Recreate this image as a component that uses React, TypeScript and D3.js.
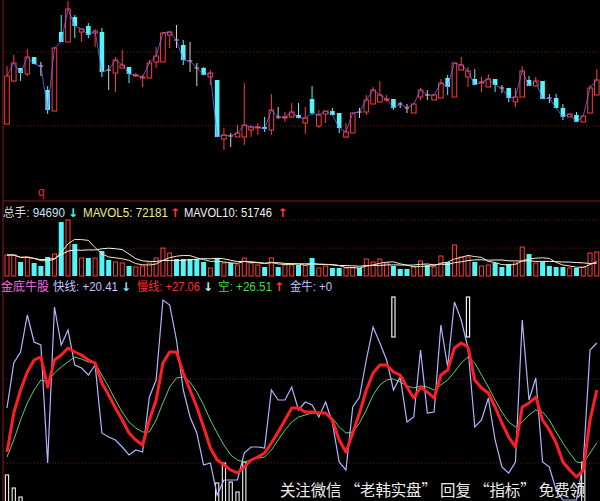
import React from "react";
import * as d3 from "d3";

const W = 600;
const H = 501;

// Daily candles
const opens = [17.6,21.9,23.2,22.6,24.3,23.4,21.0,18.9,26.8,25.8, 28.3,26.8,27.4,26.7,26.8,23.0,22.7,23.2,23.3,22.4, 22.2,22.2,23.8,23.8,26.5,26.0,25.5,23.9,23.2,23.2, 22.3,22.0,16.1,16.4,16.3,16.3,17.0,17.25,17.3,17.0, 18.3,18.25,18.3,18.5,17.7,20.1,17.4,18.6,18.9,18.7, 16.3,16.7,18.8,18.8,19.6,19.8,20.05,20.1,19.6,19.2, 18.7,20.3,20.5,20.0,20.2,22.2,20.3,23.0,22.3,22.1, 21.75,21.3,22.1,21.2,21.2,19.8,20.3,22.0,21.4,21.9, 20.2,20.2,19.2,18.3,18.5,17.8,18.7,20.5];
const closes = [22.4,23.7,22.7,24.3,23.6,23.4,19.0,25.2,25.8,29.1, 27.4,27.1,26.5,26.9,22.8,23.0,24.0,23.5,22.6,22.5, 22.3,23.7,24.4,26.7,26.8,26.0,24.0,23.9,23.2,22.5, 22.7,16.3,16.5,16.4,16.7,17.5,17.3,17.3,17.1,19.0, 18.3,18.3,18.8,18.2,18.2,18.7,18.5,18.9,18.5,17.2, 16.8,18.7,18.8,20.0,21.0,20.5,20.1,19.2,19.6,19.2, 19.6,21.0,20.5,20.5,21.7,21.3,23.7,23.5,22.9,21.5, 21.8,22.1,21.5,21.2,20.2,20.3,22.9,21.4,21.9,20.1, 20.2,19.2,18.3,18.6,17.8,18.4,21.2,22.0];
const highs = [23.4,24.5,23.2,25.1,24.3,23.8,21.4,25.3,28.5,29.9, 28.5,27.1,27.7,27.1,27.2,23.5,24.3,25.0,23.3,22.7, 22.5,24.0,25.3,26.8,26.9,27.5,26.0,25.8,23.7,23.3, 23.0,22.0,17.2,16.7,17.5,21.7,17.5,17.7,18.3,20.6, 19.3,18.8,19.7,19.7,19.3,21.4,19.0,18.9,19.2,18.7, 17.7,18.7,19.2,20.5,21.3,21.9,20.5,20.1,19.8,19.6, 19.6,21.2,21.0,20.5,22.1,22.5,23.7,24.3,23.3,23.1, 22.3,22.6,22.1,21.5,21.2,21.2,23.4,22.4,22.3,21.9, 20.6,20.6,19.6,18.6,18.8,18.4,21.5,23.1];
const lows = [17.6,21.8,21.9,22.4,23.6,22.4,18.6,18.9,25.8,25.8, 26.2,25.8,26.2,25.3,22.3,21.0,20.8,23.2,21.7,22.3, 21.3,22.2,23.2,23.8,25.2,25.2,23.5,22.8,21.4,22.5, 21.5,16.3,15.0,15.3,16.3,15.5,16.3,16.5,16.8,16.5, 18.1,17.8,18.2,18.2,16.6,18.5,17.2,17.7,18.5,16.7, 16.2,16.7,18.2,18.5,19.6,19.8,19.8,19.0,19.2,18.7, 18.7,20.0,20.0,20.0,20.2,20.5,20.3,23.0,21.3,21.5, 20.8,21.3,20.8,20.7,19.8,19.3,20.3,21.4,21.4,20.1, 19.7,19.2,18.0,18.3,17.8,17.8,18.7,20.5];

// Volume (总手)
const volumes = [82800,82800,55200,75000,51300,39500,75000,86800,213000,221000, 126000,71000,71000,71000,98600,63100,55200,51300,39500,35500, 39500,51300,71000,110000,90700,67000,67000,67000,67000,55200, 31600,71000,51300,51300,43400,71000,51300,43400,35500,71000, 35500,43400,43400,43400,43400,71000,31600,39500,31600,31600, 31600,31600,31600,67000,55200,67000,51300,39500,27600,27600, 35500,59200,43400,35500,78900,55200,122300,75000,75000,55200, 39500,43400,51300,35500,47300,51300,114400,86800,51300,55200, 39500,35500,35500,31600,31600,35500,90700,94690];

// 金底牛股 indicator lines
const fastLine = [46,68.5,74,92.5,79,77.5,18.5,96.5,77.5,85, 67.5,66,62.5,67.5,33.5,31.5,30,26.5,22.5,25, 24,51.5,60,100,97.5,80,55,41.5,33.5,17.5, 18.5,2.5,10,10,10,23.5,26.5,26.5,26,55, 50,50,56.5,45,49,47.5,41.5,49,38.5,19, 15,46.5,51.5,70,86.5,78.5,70,55,61.5,39, 41.5,75,43.5,44,87.5,66.5,99,90,76,36.5, 40,51,30,16.5,13.5,19,90,50,61,19, 16.5,5,0,0,0,18.5,75,78.5];
const slowLine = [24,43.5,55,64,70,71.5,56.5,70,72.5,76, 74,72.5,70,68.5,58.5,52.5,46,40,33.5,30, 27.5,40,50,68.5,74,74,63.5,55,46.5,36.5, 26,20,17.5,15,13.5,16.5,20,21.5,23.5,28.5, 34,40,46,46,44,44,43.5,43.5,40,30, 24,33.5,43.5,55,63.5,67.5,67.5,64,62.5,56.5, 51,56.5,54,51,62.5,65,76,78.5,76.5,60, 56,53.5,46.5,38.5,31.5,26.5,46.5,48.5,51.5,40, 35,28.5,19,15,11.5,15,40,55];
const emptyLine = [21.5,30,40,48.5,55,60,59,63.5,66.5,69, 71.5,70.5,69,68.5,62.5,56.5,50,44,39,36, 34,34,40,48.5,56.5,61,61.5,59,54,47.5, 40,33.5,27.5,22.5,20,19,20,21,21.5,25, 30,35,39,41.5,42.5,43.5,43.5,43.5,41,36.5, 33.5,34,38.5,45,52.5,57.5,60,60.5,59,57, 56,57,56.5,55,57.5,60,64,68.5,71.5,68.5, 62.5,56.5,50,44,39,36.5,39,42.5,45,44, 40,34,28.5,23.5,19,18.5,23.5,28.5];

// 金牛 sticks at the panel floor, and the two upper signal boxes
const bullIdx = [0, 1, 2, 31, 32, 33, 34, 35, 85];
const bullVal = [12.5, 6, 1.5, 8.5, 18.5, 9, 4, 19, 19];
const signalIdx = [57, 68];
const signalRange = [81.5, 101.5];

const priceGrid = [24.8, 17.4];
const volGrid = [110000, 221000];
const indGrid = [18.5, 60.5];

const RED = "#ff3c3c";
const CYAN = "#52f6f6";
const DOJI = "#d2d2d2";
const GRID = "#6a1616";
const FONT = "'Liberation Sans', Arial, 'Noto Sans CJK SC', sans-serif";
const CJK = "'Noto Sans CJK SC', sans-serif";
const ARROW = "'DejaVu Sans', sans-serif";

type Seg = { x: number; len: number; fill: string; cjk?: string; rest: string; num?: string; numFill?: string };

// header rows: label segments with their extents
const volHeader: Seg[] = [
  { x: 3, len: 62, fill: "#d8d8d8", cjk: "总手", rest: ": ", num: "94690", numFill: "#c8e4f0" },
  { x: 83, len: 85, fill: "#eeee9a", rest: "MAVOL5: 72181" },
  { x: 184, len: 88, fill: "#f2f2f2", rest: "MAVOL10: 51746" },
];
const volArrows = [
  { x: 68, ch: "↓", fill: CYAN },
  { x: 170, ch: "↑", fill: RED },
  { x: 277.5, ch: "↑", fill: RED },
];
const indHeader: Seg[] = [
  { x: 1, len: 48, fill: "#f070e8", cjk: "金底牛股", rest: "" },
  { x: 53, len: 65, fill: "#c4c4ff", cjk: "快线", rest: ": +20.41" },
  { x: 137, len: 63, fill: "#ff3030", cjk: "慢线", rest: ": +27.06" },
  { x: 218, len: 54, fill: "#4cd84c", cjk: "空", rest: ": +26.51" },
  { x: 290, len: 42, fill: "#c4c4ff", cjk: "金牛", rest: ": +0" },
];
const indArrows = [
  { x: 121, ch: "↓", fill: "#7ee8ff" },
  { x: 203, ch: "↓", fill: "#c8f8ff" },
  { x: 274, ch: "↑", fill: RED },
];

export default function App() {
  const n = closes.length;
  const x = d3.scaleBand<number>().domain(d3.range(n)).range([3.6, 600.2]);
  const cx = (i: number) => (x(i) as number) + x.bandwidth() / 2;
  const yP = d3.scaleLinear().domain([15, 30]).range([150, 0]);
  const yV = d3.scaleLinear().domain([0, 280000]).range([276, 205]);
  const yI = d3.scaleLinear().domain([0, 102.5]).range([500, 295]);

  const bodyW = 4.6;
  const volW = 5;

  const movingAvg = (k: number) =>
    volumes.map((_, i) => d3.mean(volumes.slice(Math.max(0, i - k + 1), i + 1)) as number);
  const ma5 = movingAvg(5);
  const ma10 = movingAvg(10);

  const lineOf = (scale: d3.ScaleLinear<number, number>) =>
    d3.line<number>().x((_, i) => cx(i)).y((v) => scale(v));

  const dir = (i: number) =>
    closes[i] === opens[i] ? "doji" : closes[i] > opens[i] ? "up" : "down";

  const renderSeg = (s: Seg, y: number, key: string) => (
    <text key={key} x={s.x} y={y} fill={s.fill} fontFamily={FONT} fontSize={12} textLength={s.len} lengthAdjust="spacingAndGlyphs">
      {s.cjk ? <tspan fontFamily={CJK}>{s.cjk}</tspan> : null}
      {s.rest}
      {s.num ? <tspan fill={s.numFill}>{s.num}</tspan> : null}
    </text>
  );

  return (
    <svg width={W} height={H} style={{ position: "absolute", left: 0, top: 0, display: "block" }}>
      <rect x={0} y={0} width={W} height={H} fill="#000" />

      {/* grid and panel separators */}
      {priceGrid.map((p, k) => (
        <line key={"pg" + k} x1={4} x2={W} y1={yP(p)} y2={yP(p)} stroke={GRID} strokeDasharray="1,2" />
      ))}
      {volGrid.map((v, k) => (
        <line key={"vg" + k} x1={4} x2={W} y1={yV(v)} y2={yV(v)} stroke={GRID} strokeDasharray="1,2" />
      ))}
      {indGrid.map((v, k) => (
        <line key={"ig" + k} x1={4} x2={W} y1={yI(v)} y2={yI(v)} stroke={GRID} strokeDasharray="1,2" />
      ))}
      <line x1={3} x2={W} y1={201} y2={201} stroke="#8a1c1c" />
      <line x1={3} x2={3} y1={0} y2={H} stroke="#7a1818" strokeWidth={1.2} />

      {/* candlesticks */}
      {closes.map((c, i) => {
        const o = opens[i];
        const d = dir(i);
        const xc = cx(i);
        const top = yP(Math.max(o, c));
        const bot = yP(Math.min(o, c));
        if (d === "doji") {
          return (
            <g key={"c" + i} stroke={DOJI}>
              <line x1={xc} x2={xc} y1={yP(highs[i])} y2={yP(lows[i])} />
              <line x1={xc - bodyW / 2} x2={xc + bodyW / 2} y1={top} y2={top} />
            </g>
          );
        }
        if (d === "up") {
          return (
            <g key={"c" + i} stroke={RED}>
              <line x1={xc} x2={xc} y1={yP(highs[i])} y2={top} />
              <line x1={xc} x2={xc} y1={bot} y2={yP(lows[i])} />
              <rect x={xc - bodyW / 2} y={top} width={bodyW} height={Math.max(1, bot - top)} fill="#000" />
            </g>
          );
        }
        return (
          <g key={"c" + i}>
            <line x1={xc} x2={xc} y1={yP(highs[i])} y2={yP(lows[i])} stroke={CYAN} />
            <rect x={xc - bodyW / 2} y={top} width={bodyW} height={Math.max(1, bot - top)} fill={CYAN} />
          </g>
        );
      })}
      <path d={lineOf(yP)(closes) || ""} fill="none" stroke="#8866ff" strokeWidth={0.9} opacity={0.85} />

      <text x={38} y={196} fill="#e03030" fontFamily={FONT} fontSize={12}>q</text>

      {/* volume panel */}
      {volumes.map((v, i) => {
        const up = dir(i) === "up";
        const xc = cx(i);
        const t = yV(v);
        return up ? (
          <rect key={"v" + i} x={xc - volW / 2 + 0.5} y={t} width={volW - 1} height={yV(0) - t} fill="none" stroke={RED} />
        ) : (
          <rect key={"v" + i} x={xc - volW / 2} y={t} width={volW} height={yV(0) - t} fill={CYAN} />
        );
      })}
      <path d={lineOf(yV)(ma10) || ""} fill="none" stroke="#f4f4f4" strokeWidth={1} />
      <path d={lineOf(yV)(ma5) || ""} fill="none" stroke="#eeeab8" strokeWidth={1} />

      {volHeader.map((s, k) => renderSeg(s, 217, "vh" + k))}
      {volArrows.map((a, k) => (
        <text key={"va" + k} x={a.x} y={217} fill={a.fill} fontFamily={ARROW} fontWeight="bold" fontSize={12}>{a.ch}</text>
      ))}

      {/* 金底牛股 panel */}
      {bullIdx.map((idx, k) => (
        <rect key={"b" + k} x={cx(idx) - 1.6} y={yI(bullVal[k])} width={3.2} height={yI(0) - yI(bullVal[k]) + 2} fill="none" stroke="#f0f0f0" strokeWidth={1.1} />
      ))}
      {signalIdx.map((idx, k) => (
        <rect key={"s" + k} x={cx(idx) - 1.6} y={yI(signalRange[1])} width={3.2} height={yI(signalRange[0]) - yI(signalRange[1])} fill="none" stroke="#f0f0f0" strokeWidth={1.2} />
      ))}
      <path d={lineOf(yI)(emptyLine) || ""} fill="none" stroke="#5fd05f" strokeWidth={1} />
      <path d={lineOf(yI)(fastLine) || ""} fill="none" stroke="#b4b4ff" strokeWidth={1.2} />
      <path d={lineOf(yI)(slowLine) || ""} fill="none" stroke="#ff1e28" strokeWidth={3} strokeLinejoin="round" />

      {indHeader.map((s, k) => renderSeg(s, 291, "ih" + k))}
      {indArrows.map((a, k) => (
        <text key={"ia" + k} x={a.x} y={291} fill={a.fill} fontFamily={ARROW} fontWeight="bold" fontSize={12}>{a.ch}</text>
      ))}

      <text x={280} y={496} fill="#ececec" fontFamily={CJK} fontSize={15.5} textLength={305} lengthAdjust="spacing">
        关注微信 “老韩实盘” 回复 “指标” 免费领
      </text>
    </svg>
  );
}
